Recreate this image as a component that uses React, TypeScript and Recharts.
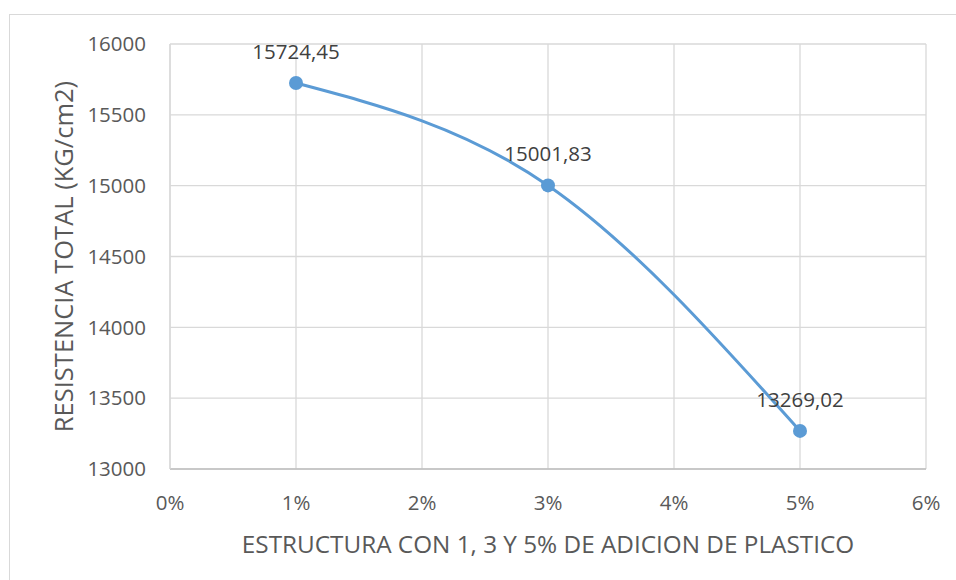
import { LineChart, Line, XAxis, YAxis, CartesianGrid, LabelList, Label } from "recharts";

// porcentaje de adicion de plastico (%)
const adicion = [1, 3, 5];
// resistencia total (kg/cm2)
const resistencia = [15724.45, 15001.83, 13269.02];
const resistenciaLabels = ["15724,45", "15001,83", "13269,02"];

const xTicks = [0, 1, 2, 3, 4, 5, 6];
const yTicks = [13000, 13500, 14000, 14500, 15000, 15500, 16000];

const xTitle = "ESTRUCTURA CON 1, 3 Y 5% DE ADICION DE PLASTICO";
const yTitle = "RESISTENCIA TOTAL (KG/cm2)";

const data = adicion.map((x, i) => ({ x, y: resistencia[i], label: resistenciaLabels[i] }));

const FONT = "'Open Sans', sans-serif";
const BLUE = "#5B9BD5";
const GRID = "#d9d9d9";
const TEXT = "#595959";

export default function App() {
  return (
    <div style={{ position: "absolute", left: 0, top: 0, width: 956, height: 580, overflow: "hidden", background: "#fff" }}>
      <div
        style={{
          position: "absolute",
          left: 9,
          top: 14,
          width: 980,
          height: 600,
          border: `1px solid ${GRID}`,
        }}
      />
      <div style={{ position: "absolute", left: 0, top: 0 }}>
        <LineChart
          width={956}
          height={580}
          data={data}
          margin={{ top: 44, right: 30, bottom: 51, left: 8 }}
          style={{ fontFamily: FONT }}
        >
          <CartesianGrid stroke={GRID} strokeWidth={1.3} horizontal vertical />
          <XAxis
            dataKey="x"
            type="number"
            domain={[0, 6]}
            ticks={xTicks}
            tickFormatter={(v: number) => `${v}%`}
            axisLine={{ stroke: "#bfbfbf", strokeWidth: 1.3 }}
            tickLine={false}
            tickSize={0}
            tickMargin={26}
            height={60}
            tick={{ fill: TEXT, fontSize: 20.5, fontFamily: FONT }}
          >
            <Label
              content={({ viewBox }: any) => (
                <text
                  x={viewBox.x + viewBox.width / 2}
                  y={viewBox.y + 74}
                  textAnchor="middle"
                  dominantBaseline="central"
                  fill={TEXT}
                  fontSize={24.3}
                  fontFamily={FONT}
                >
                  {xTitle}
                </text>
              )}
            />
          </XAxis>
          <YAxis
            dataKey="y"
            type="number"
            domain={[13000, 16000]}
            ticks={yTicks}
            axisLine={{ stroke: GRID, strokeWidth: 1.3 }}
            tickLine={false}
            tickSize={0}
            tickMargin={24}
            width={162}
            tick={{ fill: TEXT, fontSize: 20.5, fontFamily: FONT }}
          >
            <Label
              content={({ viewBox }: any) => {
                const cx = viewBox.x + 55;
                const cy = viewBox.y + viewBox.height / 2;
                return (
                  <text
                    x={cx}
                    y={cy}
                    transform={`rotate(-90 ${cx} ${cy})`}
                    textAnchor="middle"
                    dominantBaseline="central"
                    fill={TEXT}
                    fontSize={25.5}
                    fontFamily={FONT}
                  >
                    {yTitle}
                  </text>
                );
              }}
            />
          </YAxis>
          <Line
            type="natural"
            dataKey="y"
            stroke={BLUE}
            strokeWidth={3}
            dot={{ r: 7, fill: BLUE, stroke: BLUE, strokeWidth: 0 }}
            activeDot={false}
            isAnimationActive={false}
          >
            <LabelList dataKey="label" position="top" offset={24} fill="#404040" fontSize={20.5} fontFamily={FONT} />
          </Line>
        </LineChart>
      </div>
    </div>
  );
}
